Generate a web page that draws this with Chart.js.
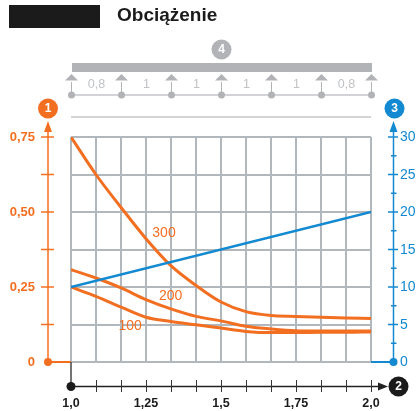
<!DOCTYPE html>
<html>
<head>
<meta charset="utf-8">
<script src="https://cdn.jsdelivr.net/npm/chart.js@4"></script>
<style>
  html, body { margin: 0; padding: 0; background: #fff; }
  #wrap { width: 420px; height: 411px; position: relative; }
</style>
</head>
<body>
<div id="wrap"><canvas id="myChart" width="420" height="411"></canvas></div>
<script>
// sample points along the x axis (1,0 .. 2,0, one per grid column)
const xValues = [1.0, 1.083, 1.167, 1.25, 1.333, 1.417, 1.5, 1.583, 1.667, 1.75, 1.833, 1.917, 2.0]
const load100 = [0.25, 0.219, 0.183, 0.149, 0.135, 0.124, 0.113, 0.102, 0.098, 0.098, 0.099, 0.099, 0.100]
const load200 = [0.308, 0.28, 0.247, 0.208, 0.177, 0.152, 0.137, 0.119, 0.110, 0.104, 0.103, 0.103, 0.103]
const load300 = [0.75, 0.625, 0.515, 0.411, 0.321, 0.255, 0.2, 0.168, 0.155, 0.152, 0.149, 0.147, 0.145]
const curveNames = ['100', '200', '300']

const blueX = [1.0, 2.0]
const blueValues = [10, 20]

const leftTicks = [0, 0.25, 0.5, 0.75]
const leftLabels = ['0', '0,25', '0,50', '0,75']
const rightTicks = [0, 5, 10, 15, 20, 25, 30]
const rightLabels = ['0', '5', '10', '15', '20', '25', '30']
const bottomTicks = [1.0, 1.25, 1.5, 1.75, 2.0]
const bottomLabels = ['1,0', '1,25', '1,5', '1,75', '2,0']
const spanLabels = ['0,8', '1', '1', '1', '1', '0,8']
const title = 'Obciążenie'

const ORANGE = '#f26f21'
const BLUE = '#1289d0'
const GRID = '#b0b7bd'
const BEAM = '#b1b3b6'
const FONT = "'Liberation Sans', Arial, sans-serif"

function circle(ctx, x, y, r, fill, text) {
  ctx.beginPath()
  ctx.arc(x, y, r, 0, Math.PI * 2)
  ctx.fillStyle = fill
  ctx.fill()
  if (text) {
    ctx.fillStyle = '#fff'
    ctx.font = `bold 12px ${FONT}`
    ctx.textAlign = 'center'
    ctx.textBaseline = 'middle'
    ctx.fillText(text, x, y + 0.5)
  }
}

function line(ctx, x1, y1, x2, y2, color, w) {
  ctx.beginPath()
  ctx.moveTo(x1, y1)
  ctx.lineTo(x2, y2)
  ctx.strokeStyle = color
  ctx.lineWidth = w
  ctx.stroke()
}

function tri(ctx, pts, color) {
  ctx.beginPath()
  ctx.moveTo(pts[0][0], pts[0][1])
  ctx.lineTo(pts[1][0], pts[1][1])
  ctx.lineTo(pts[2][0], pts[2][1])
  ctx.closePath()
  ctx.fillStyle = color
  ctx.fill()
}

const decorations = {
  id: 'decorations',
  afterDraw(chart) {
    const ctx = chart.ctx
    const xs = chart.scales.x
    const ys = chart.scales.y
    const y2 = chart.scales.y2
    const area = chart.chartArea
    const L = area.left, R = area.right, B = ys.getPixelForValue(0)
    ctx.save()

    // title
    ctx.fillStyle = '#1b1b1b'
    ctx.fillRect(9, 5, 91, 23)
    ctx.fillStyle = '#1b1b1b'
    ctx.font = `bold 19px ${FONT}`
    ctx.textAlign = 'left'
    ctx.textBaseline = 'alphabetic'
    ctx.fillText(title, 117, 20.5)

    // beam with supports
    circle(ctx, 221.5, 49.5, 10, BEAM, '4')
    ctx.fillStyle = BEAM
    ctx.fillRect(L + 1, 63, R - L, 9)
    line(ctx, L, 95, R, 95, '#c3c5c8', 1.5)
    for (let i = 0; i <= spanLabels.length; i++) {
      const x = L + (R - L) * i / spanLabels.length + 0.5
      tri(ctx, [[x, 74], [x - 6.5, 80.5], [x + 6.5, 80.5]], BEAM)
      line(ctx, x, 82, x, 95, BEAM, 1)
      circle(ctx, x, 95, 3.5, BEAM)
    }
    ctx.fillStyle = '#c0c2c5'
    ctx.font = `12.5px ${FONT}`
    ctx.textAlign = 'center'
    ctx.textBaseline = 'middle'
    spanLabels.forEach((t, i) => {
      const x = L + (R - L) * (i + 0.5) / spanLabels.length + 0.5
      ctx.fillText(t, x, 85)
    })
    line(ctx, L, 117, R, 117, '#d3d5d7', 2)

    // left axis (orange)
    const lx = 48
    line(ctx, lx, B, lx, 128, ORANGE, 1.5)
    tri(ctx, [[lx, 121], [lx - 4, 132], [lx + 4, 132]], ORANGE)
    circle(ctx, lx, 108.5, 10, ORANGE, '1')
    for (let v = 0.125; v <= 0.751; v += 0.125) {
      const y = ys.getPixelForValue(v)
      line(ctx, 41, y, 54, y, ORANGE, 1.5)
    }
    line(ctx, lx, B, L, B, ORANGE, 2)
    circle(ctx, lx, B, 4, ORANGE)
    ctx.fillStyle = ORANGE
    ctx.font = `bold 13px ${FONT}`
    ctx.textAlign = 'right'
    leftTicks.forEach((v, i) => {
      ctx.fillText(leftLabels[i], 35, ys.getPixelForValue(v) + 0.5)
    })

    // right axis (blue)
    const rx = 393.5
    line(ctx, rx, B, rx, 128, BLUE, 1.5)
    tri(ctx, [[rx, 121], [rx - 4, 132], [rx + 4, 132]], BLUE)
    circle(ctx, 394.5, 108.5, 10, BLUE, '3')
    for (let v = 2.5; v <= 30; v += 2.5) {
      const y = y2.getPixelForValue(v)
      const major = v % 5 === 0
      line(ctx, major ? 388 : 391, y, major ? 398 : 396.5, y, BLUE, 1.5)
    }
    line(ctx, R, B, rx, B, BLUE, 2)
    circle(ctx, rx, B, 4, BLUE)
    ctx.fillStyle = BLUE
    ctx.font = `14px ${FONT}`
    ctx.textAlign = 'left'
    rightTicks.forEach((v, i) => {
      ctx.fillText(rightLabels[i], 400, y2.getPixelForValue(v) + 0.5)
    })

    // bottom axis (black)
    const by = 386.5
    line(ctx, L, B, L, by, '#444', 1.5)
    line(ctx, L, by, 382, by, '#222', 1.5)
    tri(ctx, [[388, by], [378, by - 4], [378, by + 4]], '#222')
    for (let i = 1; i <= 12; i++) {
      const x = Math.round(L + (R - L) * i / 12) + 0.5
      line(ctx, x, 380, x, 392, '#333', 1)
    }
    circle(ctx, L, by, 4.5, '#1b1b1b')
    circle(ctx, 398.5, by, 10, '#1b1b1b', '2')
    ctx.fillStyle = '#1b1b1b'
    ctx.font = `bold 12.5px ${FONT}`
    ctx.textAlign = 'center'
    bottomTicks.forEach((v, i) => {
      ctx.fillText(bottomLabels[i], xs.getPixelForValue(v), 404)
    })

    // curve names
    ctx.fillStyle = ORANGE
    ctx.font = `14px ${FONT}`
    const namePos = [[1.197, 0.121], [1.332, 0.221], [1.31, 0.428]]
    curveNames.forEach((t, i) => {
      ctx.fillText(t, xs.getPixelForValue(namePos[i][0]), ys.getPixelForValue(namePos[i][1]))
    })
    ctx.restore()
  }
}

const orangeSet = (values) => ({
  data: xValues.map((x, i) => ({ x: x, y: values[i] })),
  borderColor: ORANGE,
  borderWidth: 3,
  pointRadius: 0,
  cubicInterpolationMode: 'monotone',
  yAxisID: 'y'
})

new Chart(document.getElementById('myChart').getContext('2d'), {
  type: 'line',
  data: {
    datasets: [
      {
        data: blueX.map((x, i) => ({ x: x, y: blueValues[i] })),
        borderColor: BLUE,
        borderWidth: 2.5,
        pointRadius: 0,
        yAxisID: 'y2'
      },
      orangeSet(load100),
      orangeSet(load200),
      orangeSet(load300)
    ]
  },
  options: {
    responsive: false,
    animation: false,
    layout: { padding: { left: 71, right: 49, top: 137, bottom: 49 } },
    plugins: { legend: { display: false }, tooltip: { enabled: false } },
    scales: {
      x: {
        type: 'linear',
        min: 1,
        max: 2,
        afterBuildTicks: (scale) => {
          const t = []
          for (let i = 0; i <= 12; i++) t.push({ value: 1 + i / 12 })
          scale.ticks = t
        },
        grid: { color: GRID, lineWidth: 2, drawTicks: false },
        border: { display: false },
        ticks: { display: false }
      },
      y: {
        min: 0,
        max: 0.75,
        ticks: { display: false, stepSize: 0.125 },
        grid: { color: GRID, lineWidth: 2, drawTicks: false },
        border: { display: false }
      },
      y2: {
        min: 0,
        max: 30,
        display: false
      }
    }
  },
  plugins: [decorations]
})
</script>
</body>
</html>
